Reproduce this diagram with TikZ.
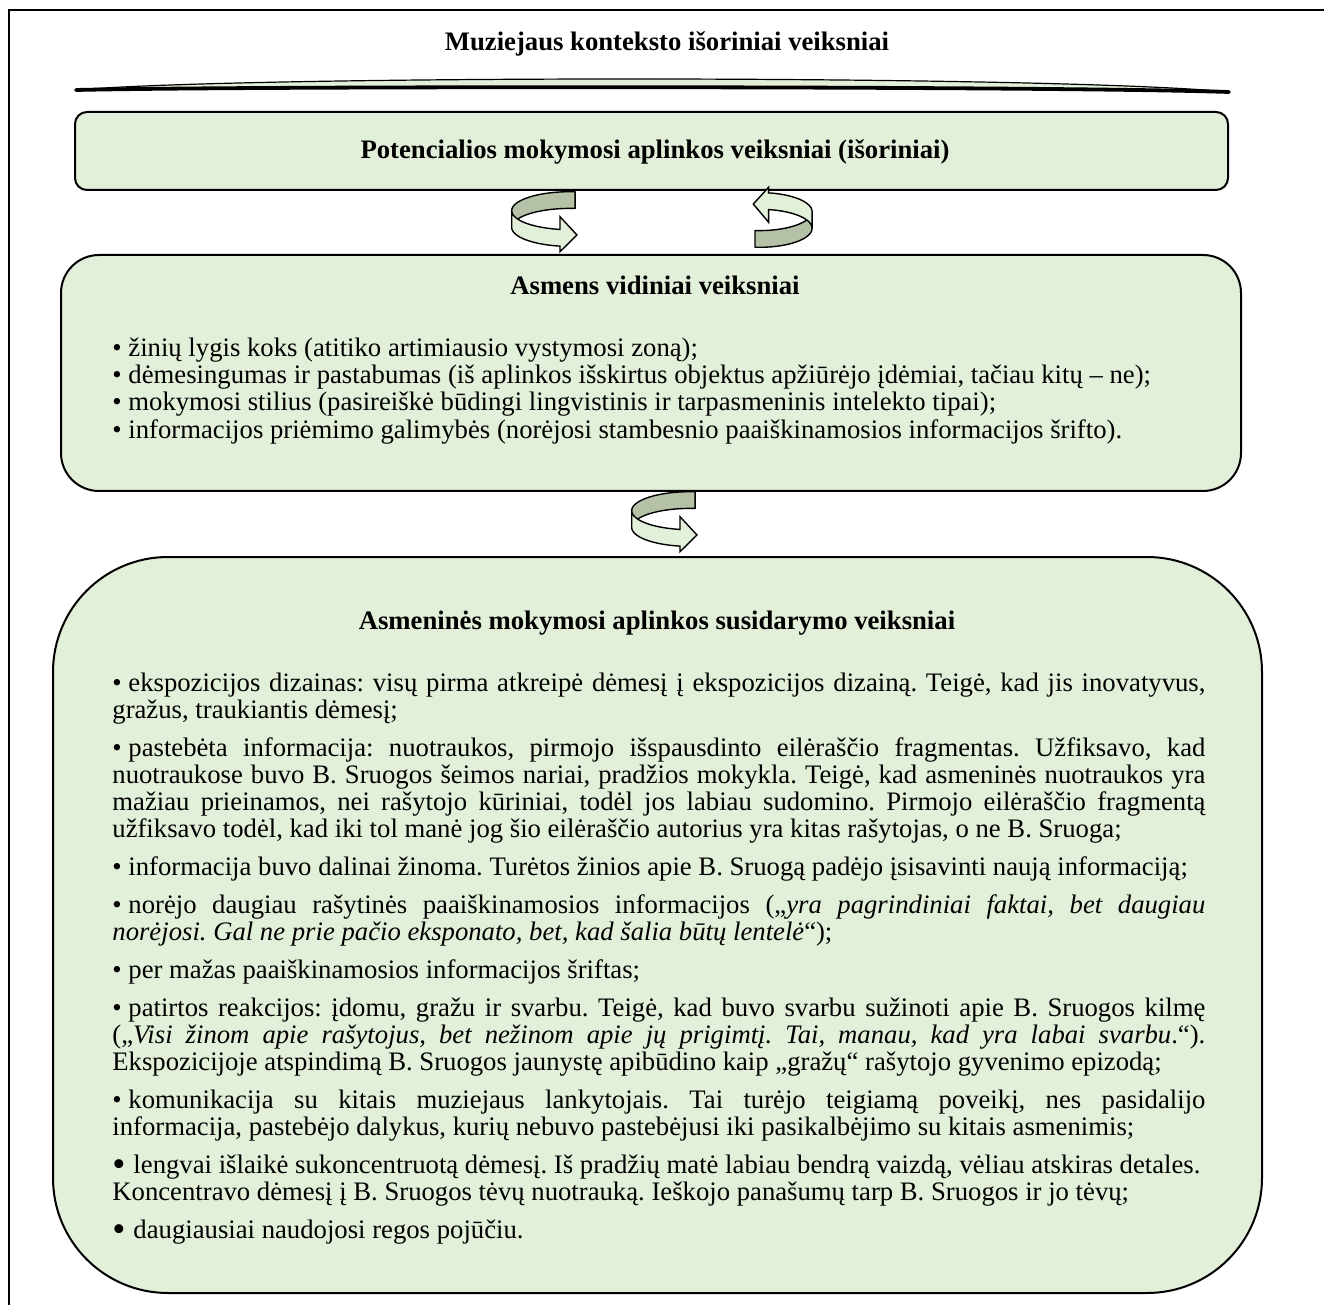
\documentclass[tikz,border=0pt]{standalone}
\usepackage{fontspec}
\setmainfont{Liberation Serif}
\usepackage{graphicx}
\definecolor{boxgreen}{HTML}{E2EFD9}
\definecolor{bandgreen}{HTML}{B4C1A7}
\newcommand\bfnt{\fontsize{13.35pt}{13.5pt}\selectfont\frenchspacing}
\newcommand\bul{\textbullet\kern0.25em}
\newcommand\bigbul{\smash{\raisebox{-0.12em}{\scalebox{1.4}{\textbullet}}}\kern0.3em}
\newcommand\jline[1]{\makebox[546.5pt][s]{#1}}

\tikzset{
  greenbox/.style={draw=black, line width=1pt, fill=boxgreen, inner sep=0},
  txt/.style={inner sep=0, anchor=base west, font=\bfnt},
  head/.style={inner sep=0, anchor=base, font=\bfnt\bfseries},
  bandback/.style={fill=bandgreen, draw=black, line width=0.7pt, line join=round},
  bandfront/.style={fill=boxgreen, draw=black, line width=0.7pt, line join=miter},
  % twisted ribbon arrow: back of the band, then the front with its head
  twist/.pic={
    \filldraw[bandback]
      plot[domain=275:180, samples=40] ({26+58.3*cos(\x)},{-11.3+19*sin(\x)})
      -- plot[domain=180:275, samples=40] ({26+58.3*cos(\x)},{5.4+19*sin(\x)})
      -- cycle;
    \filldraw[bandfront]
      plot[domain=180:99.9, samples=40] ({26+58.3*cos(\x)},{-11.3+19*sin(\x)})
      -- (16,-5.3) -- (33,13) -- (16,29.7)
      -- plot[domain=99.9:180, samples=40] ({26+58.3*cos(\x)},{5.4+19*sin(\x)})
      -- cycle;
  }
}

\begin{document}
\begin{tikzpicture}[x=0.5pt, y=-0.5pt]
\useasboundingbox (0,0) rectangle (1324,1305);
\fill[white] (0,0) rectangle (1324,1305);

% frame
\draw[line width=0.8pt] (1330,10) -- (9,10) -- (9,1310);

% title and curved band under it
\node[head] (ttl) at (667,51) {Muziejaus konteksto išoriniai veiksniai};
\fill[boxgreen] (76,90) .. controls (250,75) and (1055,75) .. (1229,92)
  .. controls (1055,86) and (250,86) .. (76,90) -- cycle;
\draw[line width=0.6pt] (76,90) .. controls (250,75) and (1055,75) .. (1229,92);
\draw[line width=1.9pt, line cap=round] (76,90) .. controls (250,86) and (1055,86) .. (1229,92);

% boxes
\node[greenbox, rounded corners=6pt, minimum width=576.5pt, minimum height=39pt] (outer) at (651.5,151) {};
\node[greenbox, rounded corners=19pt, minimum width=590pt, minimum height=118pt] (inner) at (651,373) {};
\node[greenbox, rounded corners=57.5pt, minimum width=604.5pt, minimum height=368pt] (personal) at (657.5,925) {};

% twisted arrows between the boxes
\pic (twL) at (544,222) {twist};
\pic (twR) [xscale=-0.9, yscale=-1] at (783,217) {twist};
\pic (twM) at (664,522) {twist};

% box 1
\node[head] (outerT) at (655,159) {Potencialios mokymosi aplinkos veiksniai (išoriniai)};

% box 2
\node[head] (innerT) at (655,295) {Asmens vidiniai veiksniai};
\node[txt] (i1) at (112,357) {\bul žinių lygis koks (atitiko artimiausio vystymosi zoną);};
\node[txt] (i2) at (112,384) {\bul dėmesingumas ir pastabumas (iš aplinkos išskirtus objektus apžiūrėjo įdėmiai, tačiau kitų – ne);};
\node[txt] (i3) at (112,411) {\bul mokymosi stilius (pasireiškė būdingi lingvistinis ir tarpasmeninis intelekto tipai);};
\node[txt] (i4) at (112,438) {\bul informacijos priėmimo galimybės (norėjosi stambesnio paaiškinamosios informacijos šrifto).};

% box 3
\node[head] (personalT) at (657,629) {Asmeninės mokymosi aplinkos susidarymo veiksniai};
\node[txt] (p1) at (112,691) {\jline{\bul ekspozicijos dizainas: visų pirma atkreipė dėmesį į ekspozicijos dizainą. Teigė, kad jis inovatyvus,}};
\node[txt] (p2) at (112,718) {gražus, traukiantis dėmesį;};
\node[txt] (p3) at (112,756) {\jline{\bul pastebėta informacija: nuotraukos, pirmojo išspausdinto eilėraščio fragmentas. Užfiksavo, kad}};
\node[txt] (p4) at (112,783) {\jline{nuotraukose buvo B. Sruogos šeimos nariai, pradžios mokykla. Teigė, kad asmeninės nuotraukos yra}};
\node[txt] (p5) at (112,810) {\jline{mažiau prieinamos, nei rašytojo kūriniai, todėl jos labiau sudomino. Pirmojo eilėraščio fragmentą}};
\node[txt] (p6) at (112,837) {užfiksavo todėl, kad iki tol manė jog šio eilėraščio autorius yra kitas rašytojas, o ne B. Sruoga;};
\node[txt] (p7) at (112,875) {\bul informacija buvo dalinai žinoma. Turėtos žinios apie B. Sruogą padėjo įsisavinti naują informaciją;};
\node[txt] (p8) at (112,913) {\jline{\bul norėjo daugiau rašytinės paaiškinamosios informacijos („\textit{yra pagrindiniai faktai, bet daugiau}}};
\node[txt] (p9) at (112,940) {\textit{norėjosi. Gal ne prie pačio eksponato, bet, kad šalia būtų lentelė}“);};
\node[txt] (p10) at (112,978) {\bul per mažas paaiškinamosios informacijos šriftas;};
\node[txt] (p11) at (112,1016) {\jline{\bul patirtos reakcijos: įdomu, gražu ir svarbu. Teigė, kad buvo svarbu sužinoti apie B. Sruogos kilmę}};
\node[txt] (p12) at (112,1043) {\jline{(„\textit{Visi žinom apie rašytojus, bet nežinom apie jų prigimtį. Tai, manau, kad yra labai svarbu}.“).}};
\node[txt] (p13) at (112,1070) {Ekspozicijoje atspindimą B. Sruogos jaunystę apibūdino kaip „gražų“ rašytojo gyvenimo epizodą;};
\node[txt] (p14) at (112,1108) {\jline{\bul komunikacija su kitais muziejaus lankytojais. Tai turėjo teigiamą poveikį, nes pasidalijo}};
\node[txt] (p15) at (112,1135) {informacija, pastebėjo dalykus, kurių nebuvo pastebėjusi iki pasikalbėjimo su kitais asmenimis;};
\node[txt] (p16) at (112,1173) {\bigbul lengvai išlaikė sukoncentruotą dėmesį. Iš pradžių matė labiau bendrą vaizdą, vėliau atskiras detales.};
\node[txt] (p17) at (112,1200) {Koncentravo dėmesį į B. Sruogos tėvų nuotrauką. Ieškojo panašumų tarp B. Sruogos ir jo tėvų;};
\node[txt] (p18) at (112,1238) {\bigbul daugiausiai naudojosi regos pojūčiu.};
\end{tikzpicture}
\end{document}
